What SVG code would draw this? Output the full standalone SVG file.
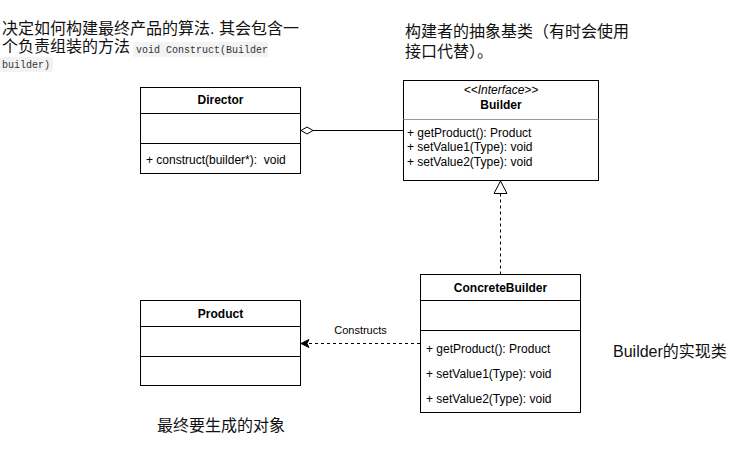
<svg xmlns="http://www.w3.org/2000/svg" width="751" height="466" viewBox="0 0 751 466">
<style>
.box{fill:#fff;stroke:#000;stroke-width:1}
.sep{stroke:#000;stroke-width:1}
.t{font-family:"Liberation Sans","Noto Sans CJK SC",sans-serif;font-size:12px;fill:#000}
.b{font-weight:bold;text-anchor:middle}
.cn{font-family:"Liberation Sans","Noto Sans CJK SC",sans-serif;font-size:16px;fill:#111}
.code{font-family:"Liberation Mono","DejaVu Sans Mono",monospace;font-size:10px;fill:#333}
.codebg{fill:#f3f3f3}
</style>
<rect width="751" height="466" fill="#fff"/>
<g id="note-director">
<text class="cn" x="2" y="34">决定如何构建最终产品的算法. 其会包含一</text>
<text class="cn" x="2" y="52">个负责组装的方法</text>
<rect class="codebg" x="133" y="42" width="135" height="15" rx="2"/>
<text class="code" x="136" y="53">void Construct(Builder</text>
<rect class="codebg" x="0" y="57" width="53" height="15" rx="2"/>
<text class="code" x="2" y="68">builder)</text>
</g>
<g id="note-builder">
<text class="cn" x="405" y="37">构建者的抽象基类（有时会使用</text>
<text class="cn" x="405" y="57">接口代替）。</text>
</g>
<g id="note-concrete"><text class="cn" x="613" y="357">Builder的实现类</text></g>
<g id="note-product"><text class="cn" x="157" y="431">最终要生成的对象</text></g>
<g id="director">
<rect class="box" x="140.5" y="87.5" width="160" height="86"/>
<line class="sep" x1="140.5" y1="113.5" x2="300.5" y2="113.5"/>
<line class="sep" x1="140.5" y1="143.5" x2="300.5" y2="143.5"/>
<text class="t b" x="220.5" y="104">Director</text>
<text class="t" x="146" y="164">+ construct(builder*):&#160; void</text>
</g>
<g id="builder">
<rect class="box" x="403.5" y="80.5" width="195" height="100"/>
<line x1="403.5" y1="119.5" x2="598.5" y2="119.5" stroke="#999"/>
<text class="t" x="501" y="94" text-anchor="middle" font-style="italic" font-size="10">&lt;&lt;Interface&gt;&gt;</text>
<text class="t b" x="501" y="109">Builder</text>
<text class="t" x="407" y="137">+ getProduct(): Product</text>
<text class="t" x="407" y="151">+ setValue1(Type): void</text>
<text class="t" x="407" y="166">+ setValue2(Type): void</text>
</g>
<g id="concretebuilder">
<rect class="box" x="420.5" y="274.5" width="160" height="138"/>
<line class="sep" x1="420.5" y1="300.5" x2="580.5" y2="300.5"/>
<line class="sep" x1="420.5" y1="330.5" x2="580.5" y2="330.5"/>
<text class="t b" x="500.5" y="292">ConcreteBuilder</text>
<text class="t" x="426" y="353">+ getProduct(): Product</text>
<text class="t" x="426" y="378">+ setValue1(Type): void</text>
<text class="t" x="426" y="403">+ setValue2(Type): void</text>
</g>
<g id="product">
<rect class="box" x="140.5" y="300.5" width="160" height="85"/>
<line class="sep" x1="140.5" y1="326.5" x2="300.5" y2="326.5"/>
<line class="sep" x1="140.5" y1="356.5" x2="300.5" y2="356.5"/>
<text class="t b" x="220.5" y="318">Product</text>
</g>
<g id="connectors" fill="none" stroke="#000" stroke-width="1">
<line x1="313" y1="130.5" x2="403.5" y2="130.5"/>
<polygon points="301,130.5 307,127 313,130.5 307,134" fill="#fff"/>
<line x1="500.5" y1="193.5" x2="500.5" y2="274" stroke-dasharray="3,3"/>
<polygon points="500.5,181 494,193.5 507,193.5" fill="#fff"/>
<line x1="420" y1="343.5" x2="303" y2="343.5" stroke-dasharray="3,3"/>
<path d="M309,339.5 L301,343.5 L309,347.5 L307,343.5 Z" fill="#000"/>
<text x="360.5" y="334" stroke="none" fill="#000" font-family="Liberation Sans,sans-serif" font-size="11" text-anchor="middle">Constructs</text>
</g>
</svg>
